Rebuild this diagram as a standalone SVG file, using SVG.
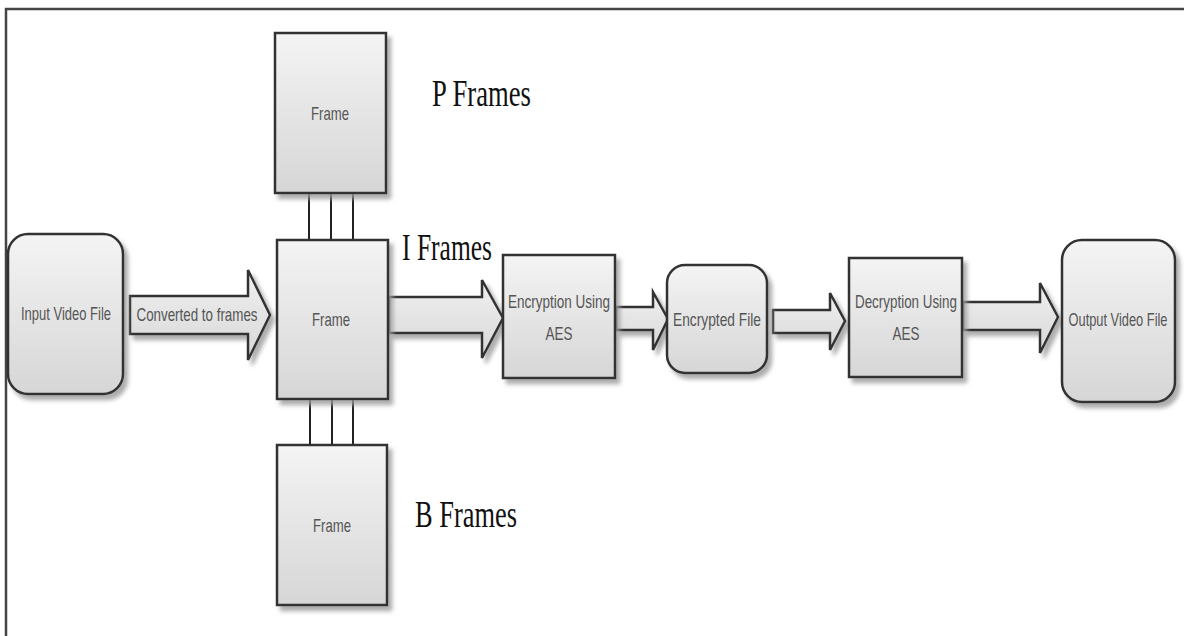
<svg xmlns="http://www.w3.org/2000/svg" width="1184" height="636" viewBox="0 0 1184 636">
<style>
.box{fill:url(#g);stroke:#333;stroke-width:2.5;filter:url(#sh)}
.arr{fill:url(#ga);stroke:#333;stroke-width:2.5;stroke-linejoin:miter;filter:url(#sh)}
.lbl{font-family:"Liberation Sans",Arial,sans-serif;font-size:19px;fill:#555;text-anchor:middle}
.ser{font-family:"Liberation Serif","Times New Roman",serif;font-size:37px;fill:#111}
.lk{stroke:#222;stroke-width:2}
</style>
<defs>
<linearGradient id="g" x1="0" y1="0" x2="0" y2="1">
<stop offset="0" stop-color="#f4f4f4"/>
<stop offset="1" stop-color="#d6d6d6"/>
</linearGradient>
<linearGradient id="ga" x1="0" y1="0" x2="0" y2="1">
<stop offset="0" stop-color="#f0f0f0"/>
<stop offset="1" stop-color="#d8d8d8"/>
</linearGradient>
<filter id="sh" x="-10%" y="-10%" width="130%" height="130%">
<feDropShadow dx="4" dy="5" stdDeviation="2" flood-color="#999" flood-opacity="0.8"/>
</filter>
</defs>
<rect width="1184" height="636" fill="#fff"/>
<path d="M6 636 V9 H1184" fill="none" stroke="#444" stroke-width="2.5"/>

<g id="connectors">
<line class="lk" x1="309" y1="193" x2="309" y2="240"/>
<line class="lk" x1="331" y1="193" x2="331" y2="240"/>
<line class="lk" x1="353" y1="193" x2="353" y2="240"/>
<line class="lk" x1="310" y1="399" x2="310" y2="445"/>
<line class="lk" x1="332" y1="399" x2="332" y2="445"/>
<line class="lk" x1="353" y1="399" x2="353" y2="445"/>
<polygon class="arr" points="130,296 248,296 248,270 270,315 248,360 248,334 130,334"/>
<text class="lbl" x="197" y="321" textLength="121" lengthAdjust="spacingAndGlyphs">Converted to frames</text>
<polygon class="arr" points="389,297 482,297 482,280 503,318 482,358 482,333 389,333"/>
<polygon class="arr" points="616,307 653,307 653,292 668,319 653,350 653,330 616,330"/>
<polygon class="arr" points="773,310 830,310 830,293 845,321 830,350 830,333 773,333"/>
<polygon class="arr" points="963,302 1040,302 1040,283 1058,317 1040,353 1040,330 963,330"/>
</g>

<g id="input">
<rect class="box" x="8" y="234" width="115" height="160" rx="20"/>
<text class="lbl" x="66" y="320" textLength="90" lengthAdjust="spacingAndGlyphs">Input Video File</text>
</g>
<g id="pframe">
<rect class="box" x="275" y="33" width="111" height="160"/>
<text class="lbl" x="330" y="120" textLength="38" lengthAdjust="spacingAndGlyphs">Frame</text>
</g>
<g id="iframe">
<rect class="box" x="277" y="240" width="111" height="159"/>
<text class="lbl" x="331" y="326" textLength="38" lengthAdjust="spacingAndGlyphs">Frame</text>
</g>
<g id="bframe">
<rect class="box" x="277" y="445" width="110" height="160"/>
<text class="lbl" x="332" y="532" textLength="38" lengthAdjust="spacingAndGlyphs">Frame</text>
</g>
<g id="plabel"><text class="ser" x="432" y="106" textLength="99" lengthAdjust="spacingAndGlyphs">P Frames</text></g>
<g id="ilabel"><text class="ser" x="402" y="260" textLength="90" lengthAdjust="spacingAndGlyphs">I Frames</text></g>
<g id="blabel"><text class="ser" x="415" y="527" textLength="102" lengthAdjust="spacingAndGlyphs">B Frames</text></g>
<g id="encrypt">
<rect class="box" x="503" y="255" width="112" height="123"/>
<text class="lbl" x="559" y="308" textLength="102" lengthAdjust="spacingAndGlyphs">Encryption Using</text>
<text class="lbl" x="559" y="340" textLength="27" lengthAdjust="spacingAndGlyphs">AES</text>
</g>
<g id="encfile">
<rect class="box" x="667" y="265" width="100" height="108" rx="18"/>
<text class="lbl" x="717" y="326" textLength="88" lengthAdjust="spacingAndGlyphs">Encrypted File</text>
</g>
<g id="decrypt">
<rect class="box" x="849" y="258" width="113" height="119"/>
<text class="lbl" x="906" y="308" textLength="102" lengthAdjust="spacingAndGlyphs">Decryption Using</text>
<text class="lbl" x="906" y="340" textLength="27" lengthAdjust="spacingAndGlyphs">AES</text>
</g>
<g id="output">
<rect class="box" x="1062" y="240" width="113" height="162" rx="20"/>
<text class="lbl" x="1118" y="326" textLength="99" lengthAdjust="spacingAndGlyphs">Output Video File</text>
</g>
</svg>
